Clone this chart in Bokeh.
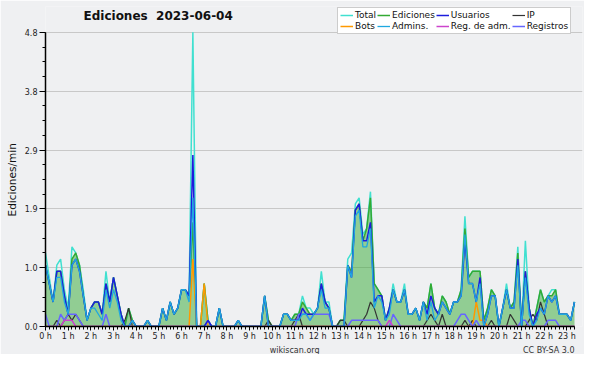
from bokeh.plotting import figure
from bokeh.models import (Range1d, FixedTicker, PrintfTickFormatter, Legend, LegendItem,
                          Label, Title, ColumnDataSource)
from bokeh.embed import file_html
from bokeh.resources import INLINE

# ---- data (10-minute slots, 00:00 .. 23:20), values in edits/min ----
hour_labels = [f"{h} h" for h in range(24)]
slots = list(range(141))

total = [
    1.2, 0.8, 0.4, 1.0, 1.1, 0.6,
    0.3, 1.3, 1.2, 1.0, 0.6, 0.1,
    0.3, 0.4, 0.4, 0.2, 0.9, 0.4,
    0.8, 0.5, 0.2, 0.0, 0.3, 0.1,
    0.0, 0.0, 0.0, 0.1, 0.0, 0.0,
    0.0, 0.3, 0.1, 0.4, 0.2, 0.3,
    0.6, 0.6, 0.5, 4.8, 0.0, 0.0,
    0.7, 0.1, 0.0, 0.0, 0.3, 0.0,
    0.0, 0.0, 0.0, 0.1, 0.0, 0.0,
    0.0, 0.0, 0.0, 0.0, 0.5, 0.1,
    0.0, 0.0, 0.0, 0.2, 0.2, 0.1,
    0.2, 0.2, 0.5, 0.3, 0.3, 0.2,
    0.3, 0.9, 0.4, 0.4, 0.0, 0.0,
    0.1, 0.1, 1.1, 1.2, 2.0, 2.1,
    1.5, 1.6, 2.2, 0.7, 0.6, 0.5,
    0.1, 0.3, 0.7, 0.4, 0.4, 0.7,
    0.2, 0.2, 0.3, 0.1, 0.4, 0.3,
    0.7, 0.3, 0.2, 0.5, 0.4, 0.2,
    0.4, 0.4, 0.6, 1.8, 0.8, 0.9,
    0.9, 0.9, 0.1, 0.3, 0.6, 0.5,
    0.0, 0.3, 0.7, 0.3, 0.4, 1.3,
    0.0, 1.4, 0.3, 0.0, 0.3, 0.6,
    0.4, 0.5, 0.6, 0.6, 0.2, 0.2,
    0.2, 0.1, 0.4,
]
ediciones = [
    1.0, 0.7, 0.4, 0.9, 0.9, 0.5,
    0.2, 1.1, 1.2, 1.0, 0.5, 0.1,
    0.3, 0.4, 0.4, 0.2, 0.7, 0.4,
    0.8, 0.5, 0.2, 0.0, 0.3, 0.1,
    0.0, 0.0, 0.0, 0.1, 0.0, 0.0,
    0.0, 0.3, 0.1, 0.4, 0.2, 0.3,
    0.6, 0.6, 0.5, 1.7, 0.0, 0.0,
    0.7, 0.1, 0.0, 0.0, 0.3, 0.0,
    0.0, 0.0, 0.0, 0.1, 0.0, 0.0,
    0.0, 0.0, 0.0, 0.0, 0.5, 0.1,
    0.0, 0.0, 0.0, 0.2, 0.2, 0.1,
    0.2, 0.2, 0.4, 0.3, 0.2, 0.2,
    0.3, 0.7, 0.4, 0.3, 0.0, 0.0,
    0.1, 0.1, 1.0, 0.9, 1.9, 2.0,
    1.4, 1.6, 2.1, 0.7, 0.6, 0.5,
    0.1, 0.3, 0.6, 0.4, 0.4, 0.6,
    0.2, 0.2, 0.3, 0.1, 0.4, 0.3,
    0.7, 0.3, 0.2, 0.5, 0.4, 0.2,
    0.4, 0.4, 0.6, 1.6, 0.8, 0.9,
    0.9, 0.9, 0.1, 0.3, 0.6, 0.5,
    0.0, 0.3, 0.6, 0.3, 0.4, 1.2,
    0.0, 0.9, 0.3, 0.0, 0.3, 0.6,
    0.4, 0.5, 0.5, 0.6, 0.2, 0.2,
    0.2, 0.1, 0.4,
]
usuarios = [
    1.0, 0.7, 0.4, 0.9, 0.9, 0.5,
    0.2, 1.0, 1.1, 0.9, 0.5, 0.1,
    0.3, 0.4, 0.4, 0.2, 0.7, 0.4,
    0.8, 0.5, 0.2, 0.0, 0.0, 0.1,
    0.0, 0.0, 0.0, 0.1, 0.0, 0.0,
    0.0, 0.3, 0.1, 0.4, 0.2, 0.3,
    0.6, 0.6, 0.5, 2.8, 0.0, 0.0,
    0.0, 0.1, 0.0, 0.0, 0.3, 0.0,
    0.0, 0.0, 0.0, 0.1, 0.0, 0.0,
    0.0, 0.0, 0.0, 0.0, 0.5, 0.0,
    0.0, 0.0, 0.0, 0.2, 0.2, 0.1,
    0.1, 0.1, 0.3, 0.2, 0.2, 0.2,
    0.3, 0.7, 0.4, 0.3, 0.0, 0.0,
    0.0, 0.0, 1.0, 0.8, 1.9, 2.0,
    1.4, 1.4, 1.7, 0.4, 0.5, 0.5,
    0.1, 0.3, 0.6, 0.4, 0.4, 0.6,
    0.2, 0.2, 0.3, 0.1, 0.4, 0.2,
    0.5, 0.3, 0.2, 0.4, 0.3, 0.2,
    0.4, 0.4, 0.5, 1.4, 0.7, 0.7,
    0.4, 0.8, 0.0, 0.2, 0.5, 0.5,
    0.0, 0.3, 0.6, 0.3, 0.3, 1.1,
    0.0, 0.9, 0.3, 0.0, 0.2, 0.3,
    0.2, 0.5, 0.4, 0.5, 0.2, 0.2,
    0.2, 0.1, 0.4,
]
admins = [
    1.0, 0.7, 0.4, 0.8, 0.8, 0.4,
    0.2, 1.0, 1.1, 0.9, 0.5, 0.1,
    0.3, 0.3, 0.2, 0.1, 0.6, 0.3,
    0.6, 0.4, 0.1, 0.0, 0.0, 0.1,
    0.0, 0.0, 0.0, 0.1, 0.0, 0.0,
    0.0, 0.3, 0.1, 0.4, 0.2, 0.3,
    0.6, 0.6, 0.4, 2.1, 0.0, 0.0,
    0.0, 0.0, 0.0, 0.0, 0.3, 0.0,
    0.0, 0.0, 0.0, 0.1, 0.0, 0.0,
    0.0, 0.0, 0.0, 0.0, 0.5, 0.0,
    0.0, 0.0, 0.0, 0.2, 0.2, 0.1,
    0.1, 0.1, 0.2, 0.2, 0.1, 0.2,
    0.3, 0.6, 0.3, 0.3, 0.0, 0.0,
    0.0, 0.0, 1.0, 0.8, 1.8, 1.9,
    1.3, 1.3, 1.6, 0.3, 0.5, 0.4,
    0.1, 0.2, 0.6, 0.4, 0.4, 0.6,
    0.2, 0.2, 0.3, 0.1, 0.4, 0.1,
    0.4, 0.1, 0.2, 0.4, 0.3, 0.2,
    0.4, 0.4, 0.5, 1.5, 0.7, 0.7,
    0.4, 0.7, 0.0, 0.2, 0.5, 0.5,
    0.0, 0.3, 0.6, 0.3, 0.3, 1.0,
    0.0, 0.8, 0.2, 0.0, 0.1, 0.3,
    0.2, 0.5, 0.4, 0.5, 0.2, 0.2,
    0.2, 0.1, 0.4,
]
ip = [
    0.0, 0.0, 0.0, 0.1, 0.0, 0.1,
    0.2, 0.1, 0.2, 0.1, 0.0, 0.0,
    0.0, 0.0, 0.0, 0.0, 0.0, 0.0,
    0.0, 0.0, 0.0, 0.1, 0.3, 0.0,
    0.0, 0.0, 0.0, 0.0, 0.0, 0.0,
    0.0, 0.0, 0.0, 0.0, 0.0, 0.0,
    0.0, 0.0, 0.0, 0.0, 0.0, 0.0,
    0.0, 0.0, 0.0, 0.0, 0.0, 0.0,
    0.0, 0.0, 0.0, 0.0, 0.0, 0.0,
    0.0, 0.0, 0.0, 0.0, 0.0, 0.1,
    0.0, 0.0, 0.0, 0.0, 0.0, 0.0,
    0.1, 0.2, 0.0, 0.0, 0.0, 0.0,
    0.0, 0.0, 0.0, 0.0, 0.0, 0.0,
    0.1, 0.1, 0.0, 0.0, 0.0, 0.0,
    0.1, 0.2, 0.4, 0.3, 0.1, 0.0,
    0.0, 0.0, 0.0, 0.0, 0.0, 0.0,
    0.0, 0.0, 0.0, 0.0, 0.0, 0.1,
    0.2, 0.1, 0.0, 0.2, 0.0, 0.0,
    0.0, 0.0, 0.0, 0.1, 0.0, 0.1,
    0.0, 0.0, 0.0, 0.0, 0.1, 0.0,
    0.0, 0.0, 0.0, 0.2, 0.1, 0.0,
    0.0, 0.0, 0.1, 0.2, 0.1, 0.4,
    0.2, 0.0, 0.0, 0.0, 0.0, 0.0,
    0.0, 0.0, 0.0,
]
bots = [0.0] * 141
for j, v in [(39, 1.1), (42, 0.7), (114, 0.4), (115, 0.1), (116, 0.1)]:
    bots[j] = v
reg_adm = [0.0] * 141
for j, v in [(5, 0.1), (6, 0.1), (7, 0.1), (91, 0.1)]:
    reg_adm[j] = v
registros = [
    0.2, 0.0, 0.0, 0.0, 0.2, 0.1,
    0.2, 0.2, 0.2, 0.1, 0.0, 0.0,
    0.0, 0.0, 0.0, 0.0, 0.2, 0.0,
    0.0, 0.0, 0.0, 0.0, 0.0, 0.0,
    0.0, 0.0, 0.0, 0.0, 0.0, 0.0,
    0.0, 0.0, 0.0, 0.0, 0.0, 0.0,
    0.0, 0.0, 0.0, 0.0, 0.0, 0.0,
    0.0, 0.1, 0.0, 0.0, 0.0, 0.0,
    0.0, 0.0, 0.0, 0.0, 0.0, 0.0,
    0.0, 0.0, 0.0, 0.0, 0.0, 0.0,
    0.0, 0.0, 0.0, 0.0, 0.0, 0.0,
    0.0, 0.2, 0.2, 0.2, 0.1, 0.2,
    0.2, 0.2, 0.2, 0.2, 0.0, 0.0,
    0.0, 0.0, 0.0, 0.1, 0.1, 0.1,
    0.1, 0.1, 0.1, 0.1, 0.1, 0.0,
    0.0, 0.0, 0.2, 0.1, 0.0, 0.0,
    0.0, 0.0, 0.0, 0.0, 0.0, 0.0,
    0.0, 0.0, 0.0, 0.0, 0.0, 0.0,
    0.0, 0.1, 0.2, 0.2, 0.1, 0.0,
    0.1, 0.0, 0.0, 0.0, 0.0, 0.0,
    0.0, 0.0, 0.0, 0.0, 0.0, 0.0,
    0.1, 0.1, 0.0, 0.0, 0.0, 0.0,
    0.0, 0.1, 0.1, 0.1, 0.0, 0.0,
    0.0, 0.0, 0.0,
]

src = ColumnDataSource(dict(slot=slots, total=total, ediciones=ediciones, usuarios=usuarios,
                            admins=admins, ip=ip, bots=bots, reg_adm=reg_adm,
                            registros=registros))

FONT = "DejaVu Sans"
BG = "#eff0f2"
ymax = max(total)
xlast = len(slots) - 1

# layout (pixels): the frame reaches up to the legend row; the data box is
# 45..574 horizontally and 32..328 vertically inside a 584x354 canvas
W, H = 584, 354
F_LEFT, F_RIGHT, F_TOP, F_BOTTOM = 45, 582, 6, 328
D_RIGHT, D_TOP = 574, 32
x_end = xlast * (F_RIGHT - F_LEFT) / (D_RIGHT - F_LEFT)
y_end = ymax * (F_BOTTOM - F_TOP) / (F_BOTTOM - D_TOP)

p = figure(width=W, height=H, output_backend="svg", toolbar_location=None,
           x_range=Range1d(0, x_end), y_range=Range1d(0, y_end),
           min_border_left=F_LEFT, min_border_right=W - F_RIGHT,
           min_border_top=F_TOP, min_border_bottom=H - F_BOTTOM,
           background_fill_color=BG, border_fill_color=BG)
p.outline_line_color = None

# x axis
xax = p.xaxis[0]
xax.bounds = (0, xlast)
xax.ticker = FixedTicker(ticks=[6 * h for h in range(24)], minor_ticks=slots)
xax.major_label_overrides = {6 * h: lab for h, lab in enumerate(hour_labels)}
xax.major_tick_in = 0
xax.major_tick_out = 4
xax.minor_tick_in = 0
xax.minor_tick_out = 3
xax.major_label_standoff = 1
xax.major_label_text_font = FONT
xax.major_label_text_font_size = "8px"
xax.major_label_text_color = "#222222"
xax.axis_line_color = "black"
xax.axis_line_width = 1.5
xax.major_tick_line_color = "black"
xax.minor_tick_line_color = "black"
p.xgrid.visible = False

# y axis (label padded so that it centres on the data box, not the taller frame)
yax = p.yaxis[0]
yax.bounds = (0, ymax)
yax.ticker = FixedTicker(ticks=[ymax * k / 5 for k in range(6)],
                         minor_ticks=[ymax * k / 20 for k in range(21)])
yax.formatter = PrintfTickFormatter(format="%.1f")
yax.major_tick_in = 0
yax.major_tick_out = 6
yax.minor_tick_in = 0
yax.minor_tick_out = 3
yax.major_label_standoff = 2
yax.major_label_text_font = FONT
yax.major_label_text_font_size = "8px"
yax.major_label_text_color = "#222222"
yax.axis_label = "Ediciones/min" + "\u00a0" * 8
yax.axis_label_text_font = FONT
yax.axis_label_text_font_size = "10.5px"
yax.axis_label_text_font_style = "normal"
yax.axis_label_text_color = "#111111"
yax.axis_label_standoff = 4
yax.axis_line_color = "black"
yax.axis_line_width = 1.5
p.ygrid.ticker = yax.ticker
p.ygrid.grid_line_color = "#c8c8c8"

# glyphs
p.varea(x="slot", y1=0, y2="ediciones", source=src, fill_color="#33aa33", fill_alpha=0.5)
r_total = p.line("slot", "total", source=src, line_color="#40e0d0", line_width=1.5)
r_edic = p.line("slot", "ediciones", source=src, line_color="#33aa33", line_width=1.5)
r_ip = p.line("slot", "ip", source=src, line_color="#333333", line_width=1.2)
r_bots = p.line("slot", "bots", source=src, line_color="#ff9900", line_width=1.5)
r_reg = p.line("slot", "registros", source=src, line_color="#6666ff", line_width=1.5)
r_regadm = p.line("slot", "reg_adm", source=src, line_color="#cc44cc", line_width=1.5)
r_usu = p.line("slot", "usuarios", source=src, line_color="#1c1cdd", line_width=1.5)
r_adm = p.line("slot", "admins", source=src, line_color="#1fa8e0", line_width=1.3)

# title (inside the top strip of the frame)
p.add_layout(Label(x=83 - F_LEFT, y=F_BOTTOM - 10, x_units="screen", y_units="screen",
                   text="Ediciones \u00a02023-06-04", text_font=FONT, text_font_size="12px",
                   text_font_style="bold", text_color="#111111", text_baseline="top",
                   text_align="left"))

legend = Legend(items=[
    LegendItem(label="Total", renderers=[r_total]),
    LegendItem(label="Ediciones", renderers=[r_edic]),
    LegendItem(label="Usuarios", renderers=[r_usu]),
    LegendItem(label="IP", renderers=[r_ip]),
    LegendItem(label="Bots", renderers=[r_bots]),
    LegendItem(label="Admins.", renderers=[r_adm]),
    LegendItem(label="Reg. de adm.", renderers=[r_regadm]),
    LegendItem(label="Registros", renderers=[r_reg]),
], location=(337 - F_LEFT, F_BOTTOM - 36), orientation="horizontal", ncols=4)
legend.label_text_font = FONT
legend.label_text_font_size = "9px"
legend.label_text_color = "#111111"
legend.label_height = 10
legend.glyph_height = 10
legend.glyph_width = 13
legend.label_standoff = 2
legend.spacing = 1
legend.padding = 2
legend.margin = 0
legend.border_line_color = "#9a9a9a"
legend.background_fill_color = "white"
legend.background_fill_alpha = 1.0
p.add_layout(legend, "center")

# credits line under the axis
credits = Title(text="wikiscan.org" + "\u00a0" * 80 + "CC BY-SA 3.0", align="right",
                offset=F_RIGHT - D_RIGHT, standoff=0, text_font=FONT, text_font_size="8px",
                text_font_style="normal", text_color="#333333")
p.add_layout(credits, "below")

open("out.html", "w").write(file_html(p, INLINE))
